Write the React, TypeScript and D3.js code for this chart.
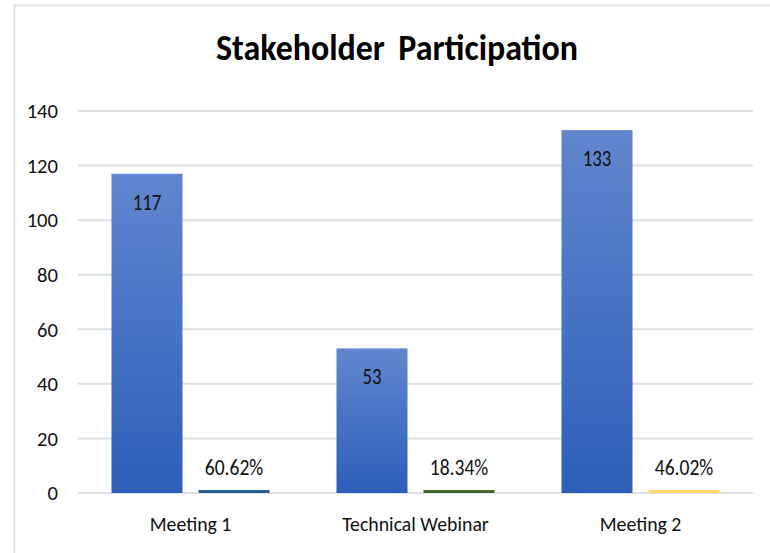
import React from "react";
import * as d3 from "d3";

const categories = ["Meeting 1", "Technical Webinar", "Meeting 2"];
const participants = [117, 53, 133];
const shares = [0.6062, 0.1834, 0.4602];
const shareLabels = ["60.62%", "18.34%", "46.02%"];
const shareColors = ["#255e91", "#43682b", "#ffd966"];
const yTicks = [0, 20, 40, 60, 80, 100, 120, 140];
const title = "Stakeholder Participation";

const W = 770;
const H = 553;
const FONT = "Carlito, Calibri, Lato, 'Open Sans', sans-serif";

export default function App() {
  const left = 78;
  const right = 753;
  const top = 111;
  const bottom = 493;

  const x = d3.scaleBand<string>().domain(categories).range([left, right]).paddingInner(0).paddingOuter(0);
  const inner = d3.scaleBand<string>().domain(["a", "b"]).range([0, x.bandwidth()]).paddingInner(0.184).paddingOuter(0.385);
  const y = d3.scaleLinear().domain([0, 140]).range([bottom, top]);

  const ts = (sx: number, sy: number) => `scale(${sx},${sy})`;

  return (
    <svg width={W} height={H} style={{ position: "absolute", left: 0, top: 0, background: "#fff" }} fontFamily={FONT}>
      <defs>
        <linearGradient id="barGrad" x1="0" y1="0" x2="0" y2="1">
          <stop offset="0" stopColor="#6186cd" />
          <stop offset="1" stopColor="#2d5fba" />
        </linearGradient>
      </defs>
      <rect x={14.5} y={5.5} width={W + 20} height={H + 20} fill="#fff" stroke="#dfe3e8" strokeWidth={2} />
      <g transform={`translate(${W / 2 + 12},60) ${ts(0.97, 1.05)}`}>
        <text textAnchor="middle" fontSize={35} fontWeight="900" fill="#000" wordSpacing="6">
          {title}
        </text>
      </g>
      {yTicks.map((t) => (
        <g key={t}>
          <line x1={left} x2={right} y1={y(t)} y2={y(t)} stroke="#dde1e6" strokeWidth={2} />
          <g transform={`translate(58,${y(t)}) ${ts(1.03, 1.05)}`}>
            <text textAnchor="end" dy="0.35em" fontSize={20} fill="#111">
              {t}
            </text>
          </g>
        </g>
      ))}
      {categories.map((c, i) => {
        const bx = (x(c) ?? 0) + (inner("a") ?? 0);
        const sx = (x(c) ?? 0) + (inner("b") ?? 0);
        const bw = inner.bandwidth();
        const h2 = Math.max(y(0) - y(shares[i]), 3);
        return (
          <g key={c}>
            <rect x={bx} y={y(participants[i])} width={bw} height={y(0) - y(participants[i])} fill="url(#barGrad)" />
            <rect x={sx} y={y(0) - h2} width={bw} height={h2} fill={shareColors[i]} />
            <g transform={`translate(${bx + bw / 2},${y(participants[i]) + 36}) ${ts(0.9, 1.05)}`}>
              <text textAnchor="middle" fontSize={21} fill="#111">
                {participants[i]}
              </text>
            </g>
            <g transform={`translate(${sx + bw / 2},${y(0) - h2 - 15}) ${ts(0.93, 1.05)}`}>
              <text textAnchor="middle" fontSize={21} fill="#111">
                {shareLabels[i]}
              </text>
            </g>
            <g transform={`translate(${(x(c) ?? 0) + x.bandwidth() / 2},531) ${ts(0.99, 1.05)}`}>
              <text textAnchor="middle" fontSize={20} fill="#111">
                {c}
              </text>
            </g>
          </g>
        );
      })}
    </svg>
  );
}
